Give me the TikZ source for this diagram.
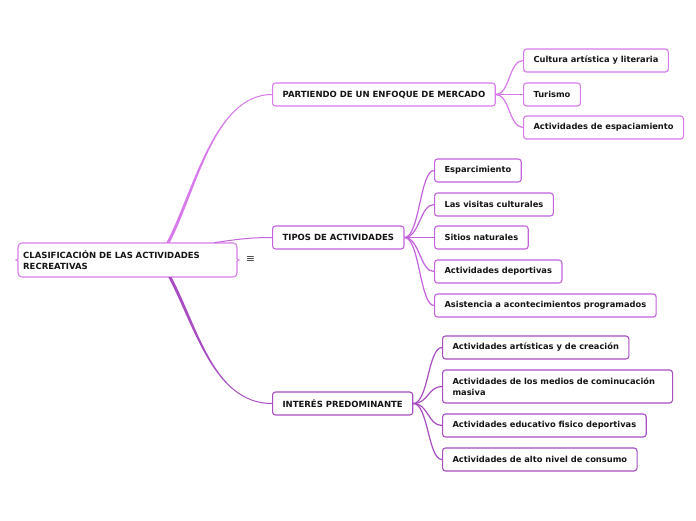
\documentclass[tikz,border=0pt]{standalone}
\usepackage{fontspec}
\setmainfont{DejaVu Sans}
\usetikzlibrary{calc}
\definecolor{cA}{RGB}{216,122,236}
\definecolor{cB}{RGB}{196,98,222}
\definecolor{cC}{RGB}{168,78,194}
\definecolor{cR}{RGB}{214,126,232}
\definecolor{txt}{RGB}{20,20,20}
\begin{document}
\begin{tikzpicture}[x=1pt,y=-1pt,
  lbl/.style={font=\fontsize{8.5}{10.5}\selectfont\bfseries, text=txt, align=left},
  box/.style={lbl, draw, fill=white, rounded corners=3pt, line width=1.1pt,
    minimum height=23pt, inner xsep=10pt, inner ysep=0pt, anchor=west},
  leaf/.style={box, font=\fontsize{8.3}{10.5}\selectfont\bfseries},
  boxA/.style={box, draw=cA},
  boxB/.style={box, draw=cB},
  boxC/.style={box, draw=cC},
  leafA/.style={leaf, draw=cA},
  leafB/.style={leaf, draw=cB},
  leafC/.style={leaf, draw=cC},
  fanA/.style={draw=cA, line width=1.2pt},
  fanB/.style={draw=cB, line width=1.2pt},
  fanC/.style={draw=cC, line width=1.2pt}]
\useasboundingbox (0,0) rectangle (696,520);
\fill[white] (0,0) rectangle (696,520);

% root
\node[lbl, text width=209pt, inner xsep=5pt, inner ysep=0pt, minimum height=34pt, anchor=west] (root) at (18,260) {CLASIFICACIÓN DE LAS ACTIVIDADES\\RECREATIVAS};
\draw[cR, line width=1.1pt, rounded corners=4pt]
  (18,255) -- (18,243) -- (237,243) -- (237,255)
  .. controls (237,258.5) and (239,260) .. (242,260)
  .. controls (239,260) and (237,261.5) .. (237,265)
  -- (237,277) -- (18,277) -- (18,265)
  .. controls (18,261.5) and (16,260) .. (13,260)
  .. controls (16,260) and (18,258.5) .. cycle;
\node[text=black!75, font=\fontsize{11}{11}\selectfont] (menu) at (250.5,260) {≡};

% level 1
\node[boxA] (p1) at (272,94.5) {PARTIENDO DE UN ENFOQUE DE MERCADO};
\node[boxB] (t1) at (272,237.5) {TIPOS DE ACTIVIDADES};
\node[boxC] (i1) at (272,403.5) {INTERÉS PREDOMINANTE};

% level 2 A
\node[leafA] (a1) at (523,60.5) {Cultura artística y literaria};
\node[leafA] (a2) at (523,94.5) {Turismo};
\node[leafA] (a3) at (523,127.5) {Actividades de espaciamiento};

% level 2 B
\node[leafB] (b1) at (434,170.5) {Esparcimiento};
\node[leafB] (b2) at (434,204.5) {Las visitas culturales};
\node[leafB] (b3) at (434,237.5) {Sitios naturales};
\node[leafB] (b4) at (434,271.5) {Actividades deportivas};
\node[leafB] (b5) at (434,305.5) {Asistencia a acontecimientos programados};

% level 2 C
\node[leafC] (d1) at (442,347.5) {Actividades artísticas y de creación};
\node[leafC, text width=210pt, minimum height=33pt] (d2) at (442,386.5) {Actividades de los medios de cominucación\\masiva};
\node[leafC] (d3) at (442,425.5) {Actividades educativo fisico deportivas};
\node[leafC] (d4) at (442,459.5) {Actividades de alto nivel de consumo};

% root connectors
\coordinate (sA) at ($(root.north west)+(150,0)$);
\coordinate (sB) at ($(root.north west)+(196,0)$);
\coordinate (sC) at ($(root.south west)+(152,0)$);
\fill[cA] ($(sA)+(-1.6,0)$) .. controls (193,192) and (214,93.9) .. ($(p1.west)+(0,-0.5)$)
  -- ($(p1.west)+(0,0.5)$) .. controls (214,95.1) and (196.5,192) .. ($(sA)+(1.6,0)$) -- cycle;
\draw[cB, line width=1pt] (sB) .. controls (235,239.5) and (250,237.5) .. (t1.west);
\fill[cC] ($(sC)+(-1.6,0)$) .. controls (195,328) and (214,404) .. ($(i1.west)+(0,0.5)$)
  -- ($(i1.west)+(0,-0.5)$) .. controls (214,403) and (198.5,328) .. ($(sC)+(1.6,0)$) -- cycle;

% fans
\foreach \c in {a1,a2,a3}
  \path[fanA] (p1.east) .. controls +(14,0) and +(-14,0) .. (\c.west);
\foreach \c in {b1,b2,b3,b4,b5}
  \path[fanB] (t1.east) .. controls +(15,0) and +(-14,0) .. (\c.west);
\foreach \c in {d1,d2,d3,d4}
  \path[fanC] (i1.east) .. controls +(15,0) and +(-14,0) .. (\c.west);
\end{tikzpicture}
\end{document}
